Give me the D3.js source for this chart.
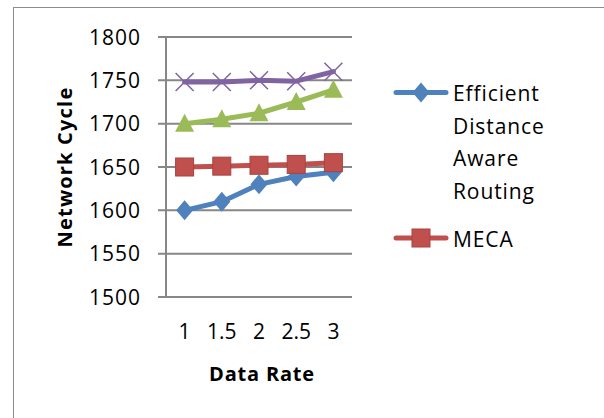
<!DOCTYPE html>
<html><head><meta charset="utf-8">
<script src="https://cdn.jsdelivr.net/npm/d3@7"></script>
<style>html,body{margin:0;padding:0;background:#fff;}</style>
</head><body>
<script>
const categories = ["1", "1.5", "2", "2.5", "3"];
const seriesNames = ["Efficient Distance Aware Routing", "MECA", "Series3", "Series4"];
const efficient = [1600, 1610, 1630, 1639, 1644];
const meca = [1650, 1651, 1652, 1653, 1655];
const series3 = [1700, 1705, 1712, 1725, 1739];
const series4 = [1748, 1748, 1750, 1749, 1760];
const yTicks = [1500, 1550, 1600, 1650, 1700, 1750, 1800];
const legendLines = [["Efficient", "Distance", "Aware", "Routing"], ["MECA"]];

const W = 604, H = 418;
const svg = d3.select("body").append("svg").attr("width", W).attr("height", H);
svg.append("rect").attr("x", 13.5).attr("y", 7.5).attr("width", 620).attr("height", 440)
  .attr("fill", "#fff").attr("stroke", "#8c8c8c").attr("stroke-width", 1);

const x = d3.scaleBand().domain(categories).range([166, 352]);
const y = d3.scaleLinear().domain([1500, 1800]).range([297, 37]);
const font = "'Open Sans', sans-serif";

// gridlines
const yAxis = d3.axisLeft(y).tickValues(yTicks).tickSize(-(352 - 158)).tickFormat("");
const ga = svg.append("g").attr("transform", "translate(352,0)");
// draw gridlines manually via axis
svg.append("g").selectAll("line").data(yTicks).join("line")
  .attr("x1", 158).attr("x2", 352).attr("y1", d => y(d)).attr("y2", d => y(d))
  .attr("stroke", "#878787").attr("stroke-width", 2);
ga.remove();
svg.append("line").attr("x1", 166).attr("x2", 166).attr("y1", y(1800)).attr("y2", y(1500))
  .attr("stroke", "#878787").attr("stroke-width", 2);

// y labels
svg.append("g").selectAll("text").data(yTicks).join("text")
  .attr("x", 141).attr("y", d => y(d) + 7.5).attr("text-anchor", "end")
  .attr("font-family", font).attr("font-size", 21).attr("letter-spacing", 1).attr("fill", "#000")
  .text(d => d);
// x labels
svg.append("g").selectAll("text").data(categories).join("text")
  .attr("x", d => x(d) + x.bandwidth() / 2).attr("y", 339).attr("text-anchor", "middle")
  .attr("font-family", font).attr("font-size", 21).attr("fill", "#000")
  .text(d => d);

// titles
svg.append("text").attr("x", 262).attr("y", 381).attr("text-anchor", "middle")
  .attr("font-family", font).attr("font-weight", "bold").attr("font-size", 20).attr("letter-spacing", 0.8)
  .text("Data Rate");
svg.append("text").attr("transform", "translate(72,167) rotate(-90)").attr("text-anchor", "middle")
  .attr("font-family", font).attr("font-weight", "bold").attr("font-size", 20).attr("letter-spacing", 1.2)
  .text("Network Cycle");

const series = [
  {name: seriesNames[0], values: efficient, color: "#4F81BD", stroke: "#4F81BD", sym: "diamond"},
  {name: seriesNames[1], values: meca, color: "#C0504D", stroke: "#A8423F", sym: "square"},
  {name: seriesNames[2], values: series3, color: "#9BBB59", stroke: "#9BBB59", sym: "triangle"},
  {name: seriesNames[3], values: series4, color: "#8064A2", stroke: "#8064A2", sym: "x"}
];
const line = d3.line().x((d, i) => x(categories[i]) + x.bandwidth() / 2).y(d => y(d));

function drawMarker(g, sym, cx, cy, s) {
  if (sym === "diamond") {
    g.append("path").attr("d", `M${cx},${cy-10}L${cx+8.5},${cy}L${cx},${cy+10}L${cx-8.5},${cy}Z`)
      .attr("fill", s.color);
  } else if (sym === "square") {
    g.append("rect").attr("x", cx - 9).attr("y", cy - 9).attr("width", 18).attr("height", 18)
      .attr("fill", s.color).attr("stroke", s.stroke).attr("stroke-width", 1);
  } else if (sym === "triangle") {
    g.append("path").attr("d", `M${cx},${cy-10}L${cx+9.5},${cy+8}L${cx-9.5},${cy+8}Z`).attr("fill", s.color);
  } else {
    g.append("path").attr("d", `M${cx-9},${cy-9}L${cx+9},${cy+9}M${cx+9},${cy-9}L${cx-9},${cy+9}`)
      .attr("stroke", s.color).attr("stroke-width", 1.5).attr("fill", "none");
  }
}

series.forEach(s => {
  const g = svg.append("g");
  g.append("path").datum(s.values).attr("d", line).attr("fill", "none")
    .attr("stroke", s.color).attr("stroke-width", 5).attr("stroke-linejoin", "round").attr("stroke-linecap", "round");
  s.values.forEach((v, i) => drawMarker(g, s.sym, x(categories[i]) + x.bandwidth() / 2, y(v), s));
});

// legend
const legY = [92.5, 238];
legendLines.forEach((lines, k) => {
  const s = series[k];
  const g = svg.append("g");
  g.append("line").attr("x1", 396).attr("x2", 446).attr("y1", legY[k]).attr("y2", legY[k])
    .attr("stroke", s.color).attr("stroke-width", 5).attr("stroke-linecap", "round");
  drawMarker(g, s.sym, 421, legY[k], s);
  lines.forEach((t, j) => {
    g.append("text").attr("x", 453).attr("y", legY[k] + 8.5 + j * 32.5)
      .attr("font-family", font).attr("font-size", 21).attr("letter-spacing", 0.9).attr("fill", "#000").text(t);
  });
});
</script>
</body></html>
